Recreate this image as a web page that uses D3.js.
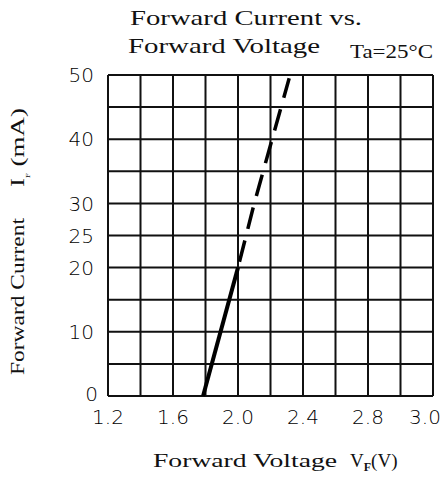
<!DOCTYPE html>
<html>
<head>
<meta charset="utf-8">
<script src="https://cdn.jsdelivr.net/npm/d3@7"></script>
<style>
	body { margin: 0; background: #fff; }
	svg { display: block; }
	.serif { font-family: "Liberation Serif", "DejaVu Serif", serif; fill: #111; }
	.tick { font-family: "DejaVu Sans", sans-serif; font-weight: 200; font-size: 20px; fill: #000; }
</style>
</head>
<body>
<div id="viz"><svg width="443" height="479"></svg></div>
<script>
// grid values and tick labels
const vfGrid = [1.2, 1.4, 1.6, 1.8, 2.0, 2.2, 2.4, 2.6, 2.8, 2.9, 3.0];
const ifGrid = [0, 5, 10, 15, 20, 25, 30, 35, 40, 45, 50];
const vfTicks = [1.2, 1.6, 2.0, 2.4, 2.8, 3.0];
const ifTicks = [0, 10, 20, 25, 30, 40, 50];

// curve: solid part, then dashed part
const vfSolid = [1.785, 2.0];
const ifSolid = [0, 20];
const vfDashed = [2.0, 2.1, 2.21, 2.315];
const ifDashed = [20, 30, 40, 49.5];

const svg = d3.select('#viz svg');
const plot = { left: 108, right: 433, top: 75, bottom: 396 };

// the original axis squeezes 2.8..3.0 into the same width as 0.4 elsewhere
const x = d3.scaleLinear()
	.domain([1.2, 2.8, 3.0])
	.range([plot.left, plot.left + (plot.right - plot.left) * 0.8, plot.right]);
const y = d3.scaleLinear().domain([0, 50]).range([plot.bottom, plot.top]);

const grid = svg.append('g').attr('stroke', '#111').attr('stroke-width', 2);
grid.selectAll('line.v')
	.data(vfGrid)
	.enter().append('line')
		.attr('x1', d => x(d)).attr('x2', d => x(d))
		.attr('y1', y(0)).attr('y2', y(50));
grid.selectAll('line.h')
	.data(ifGrid)
	.enter().append('line')
		.attr('y1', d => y(d)).attr('y2', d => y(d))
		.attr('x1', x(1.2)).attr('x2', x(3.0));

// tick labels
svg.selectAll('text.xt')
	.data(vfTicks)
	.enter().append('text')
		.attr('class', 'tick')
		.attr('x', (d, i) => x(d) + (i === vfTicks.length - 1 ? -8 : 0))
		.attr('y', 424)
		.attr('text-anchor', 'middle')
		.text(d => d.toFixed(1));

svg.selectAll('text.yt')
	.data(ifTicks)
	.enter().append('text')
		.attr('class', 'tick')
		.attr('x', d => d === 0 ? 98 : 94)
		.attr('y', d => y(d) + (d === 0 ? -2 : 0))
		.attr('dy', '0.36em')
		.attr('text-anchor', 'end')
		.text(d => d);

// curve
const line = d3.line().x(d => x(d[0])).y(d => y(d[1]));
svg.append('path')
	.datum(d3.zip(vfSolid, ifSolid))
	.attr('d', line)
	.attr('fill', 'none')
	.attr('stroke', '#000')
	.attr('stroke-width', 4);
svg.append('path')
	.datum(d3.zip(vfDashed, ifDashed))
	.attr('d', line)
	.attr('fill', 'none')
	.attr('stroke', '#000')
	.attr('stroke-width', 3.5)
	.attr('stroke-dasharray', '22,12')
	.attr('stroke-dashoffset', -6);

// titles
const title = (txt, tx, ty, size, len) => svg.append('text')
	.attr('class', 'serif')
	.attr('x', tx).attr('y', ty)
	.attr('font-size', size)
	.attr('textLength', len)
	.attr('lengthAdjust', 'spacingAndGlyphs')
	.text(txt);

title('Forward Current vs.', 130, 25, 22, 232);
title('Forward Voltage', 128, 53, 21, 192);
title('Ta=25°C', 350, 58, 19, 83);

title('Forward Voltage', 153, 467, 19, 184);
const vf = svg.append('text')
	.attr('class', 'serif')
	.attr('x', 350).attr('y', 467)
	.attr('font-size', 19);
vf.append('tspan').text('V');
vf.append('tspan').attr('font-size', 12).attr('font-weight', 'bold').attr('dy', 4).text('F');
vf.append('tspan').attr('dy', -4).text('(V)');

const yl = svg.append('g').attr('transform', 'translate(24,0) rotate(-90)');
yl.append('text')
	.attr('class', 'serif')
	.attr('x', -375).attr('y', 0)
	.attr('font-size', 19)
	.attr('textLength', 157)
	.attr('lengthAdjust', 'spacingAndGlyphs')
	.text('Forward Current');
const il = yl.append('text')
	.attr('class', 'serif')
	.attr('x', -187).attr('y', 0)
	.attr('font-size', 19)
	.attr('textLength', 79)
	.attr('lengthAdjust', 'spacingAndGlyphs');
il.append('tspan').text('I');
il.append('tspan').attr('font-size', 6).attr('dy', 6).text('F');
il.append('tspan').attr('dy', -6).text(' (mA)');
</script>
</body>
</html>
